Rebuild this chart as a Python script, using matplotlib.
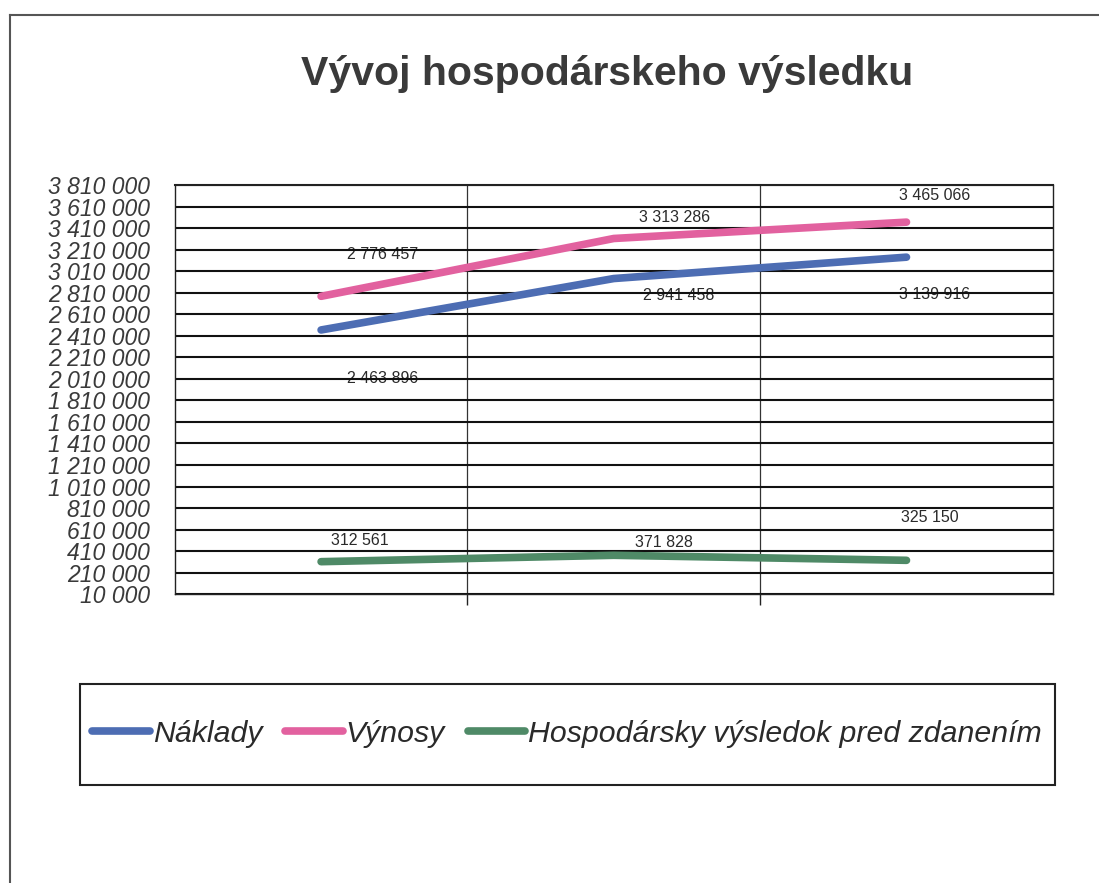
import matplotlib.pyplot as plt
import matplotlib.ticker as mticker
from matplotlib.patches import Rectangle
from matplotlib.lines import Line2D

plt.rcParams['font.family'] = ['Liberation Sans', 'DejaVu Sans']

# data
periods = ["1", "2", "3"]
naklady = [2463896, 2941458, 3139916]
vynosy = [2776457, 3313286, 3465066]
hv = [312561, 371828, 325150]
series_names = ["Náklady", "Výnosy", "Hospodársky výsledok pred zdanením"]

# y axis scale as on the chart
y_min = 10000
y_max = 3810000
y_step = 200000

colors = ["#4d6db3", "#e2619f", "#4f8a67"]
# label offsets in points (dx, dy) from each data point
label_offsets = [
    [(44, -35), (47, -12), (20, -27)],
    [(44, 30), (44, 15), (20, 19)],
    [(28, 15), (36, 9), (17, 31)],
]


def fmt(v, _=None):
    return f"{v:,.0f}".replace(",", " ")


fig = plt.figure(figsize=(10.99, 8.83), dpi=100)
ax = fig.add_axes([0.159, 0.327, 0.799, 0.4635])

x = list(range(len(periods)))
all_series = [naklady, vynosy, hv]
for vals, name, col in zip(all_series, series_names, colors):
    ax.plot(x, vals, color=col, lw=5.5, solid_capstyle="round", label=name, zorder=3)

for vals, offs in zip(all_series, label_offsets):
    for xi, v, (dx, dy) in zip(x, vals, offs):
        ax.annotate(fmt(v), (xi, v), xytext=(dx, dy), textcoords="offset points",
                    ha="center", va="center", fontsize=11.5, color="#2a2a2a", zorder=1)

ax.set_xlim(-0.5, len(periods) - 0.5)
ax.set_ylim(y_min, y_max)
ax.set_yticks(range(y_min, y_max + 1, y_step))
ax.yaxis.set_major_formatter(mticker.FuncFormatter(fmt))
ax.set_xticks([i + 0.5 for i in range(len(periods) - 1)])
ax.set_xticklabels([])
ax.tick_params(axis="y", length=0, pad=18, labelsize=16.5, labelcolor="#3a3a3a")
ax.tick_params(axis="x", length=8, width=1, direction="out", color="#222222")
for lab in ax.get_yticklabels():
    lab.set_fontstyle("italic")
ax.grid(axis="y", color="#111111", lw=1.5, zorder=2)
ax.grid(axis="x", color="#333333", lw=0.9, zorder=2)
for s in ax.spines.values():
    s.set_color("#222222")
    s.set_linewidth(1.0)
ax.spines["top"].set_linewidth(1.5)

fig.text(0.552, 0.916, "Vývoj hospodárskeho výsledku", ha="center", va="center",
         fontsize=29.5, fontweight="bold", color="#3a3a3a")

# legend box
fig.patches.append(Rectangle((0.073, 0.111), 0.887, 0.114, transform=fig.transFigure,
                             fill=False, edgecolor="#222222", lw=1.5))
handles = [Line2D([0], [0], color=c, lw=5.5, solid_capstyle="round") for c in colors]
leg = fig.legend(handles, series_names, loc="center", bbox_to_anchor=(0.516, 0.169),
                 ncol=3, frameon=False, handlelength=1.9, handletextpad=0.1,
                 columnspacing=0.75, prop={"size": 21.8, "style": "italic"})
for t in leg.get_texts():
    t.set_color("#2a2a2a")

# outer frame of the scanned page
fig.add_artist(Line2D([0.009, 0.009], [0, 0.983], transform=fig.transFigure,
                      color="#555555", lw=1.5))
fig.add_artist(Line2D([0.009, 1.0], [0.983, 0.983], transform=fig.transFigure,
                      color="#555555", lw=1.5))

fig.savefig("out.png", dpi=100)
